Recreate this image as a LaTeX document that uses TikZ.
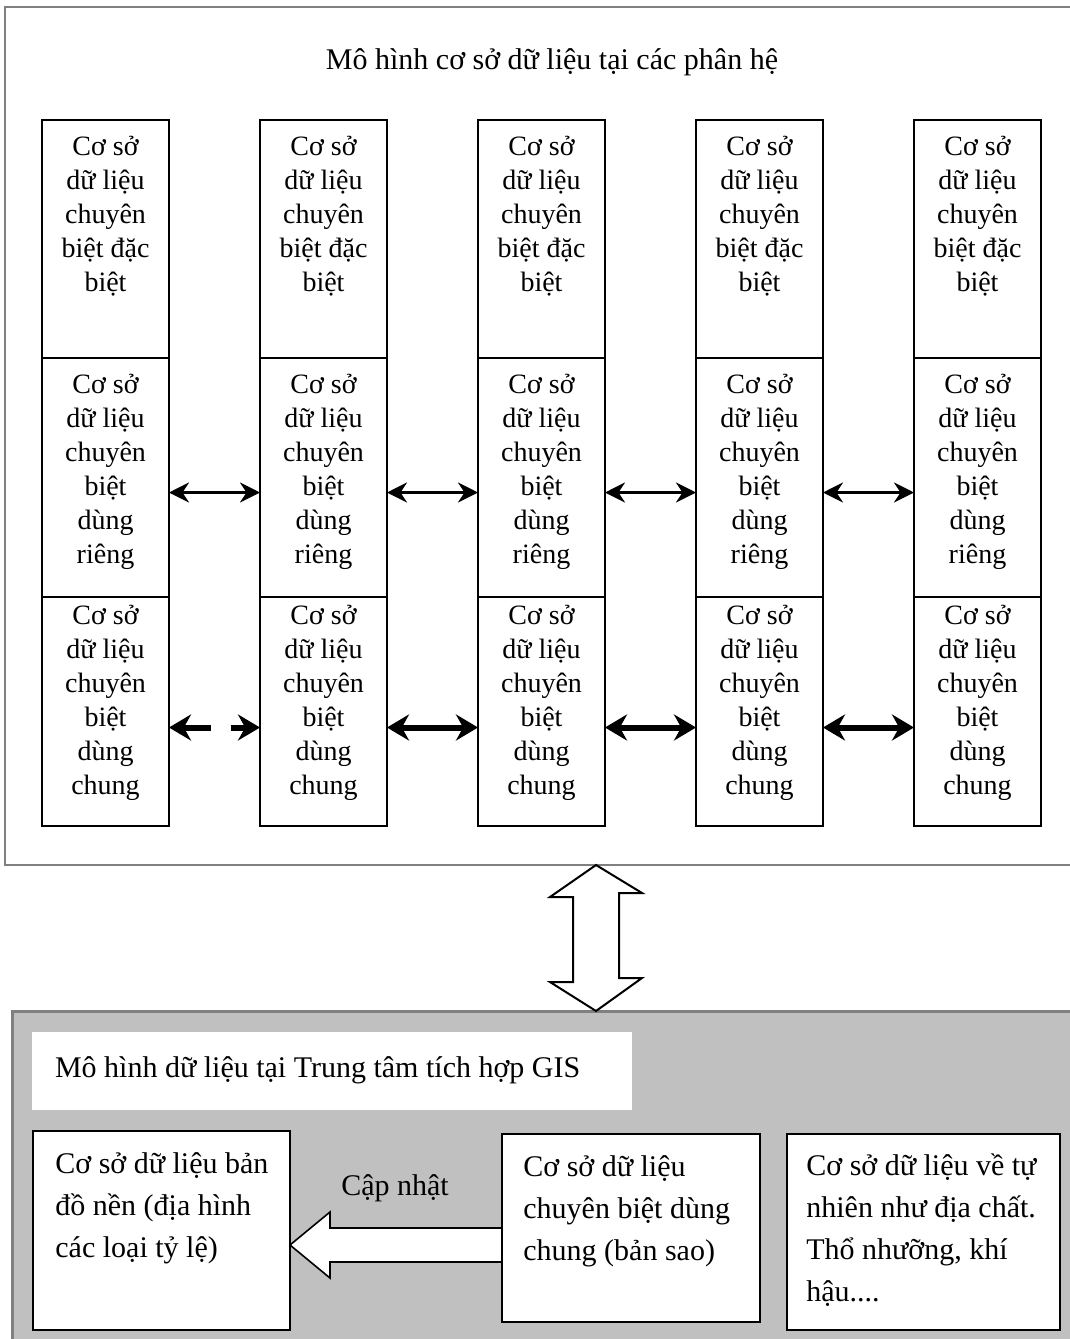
\documentclass[tikz,border=0pt]{standalone}
\usepackage{fontspec}
\setmainfont{Liberation Serif}
\usepackage{tikz}
\usetikzlibrary{arrows.meta,positioning,calc}

\definecolor{xamnen}{HTML}{C0C0C0}
\definecolor{xamvien}{HTML}{808080}

\begin{document}
\begin{tikzpicture}[x=0.5pt,y=-0.5pt,
  cot/.style={draw=black, line width=1.2pt, outer sep=0pt, minimum width=63.5pt},
  chu/.style={align=center, anchor=north, inner sep=0pt, font=\fontsize{14}{17}\selectfont},
  hop/.style={draw=black, line width=1.3pt, fill=white, outer sep=0pt, anchor=north west},
  chuhop/.style={align=left, anchor=north west, inner sep=0pt, font=\fontsize{15}{21}\selectfont},
  muiten/.style={{Stealth[length=10pt,width=10pt]}-{Stealth[length=10pt,width=10pt]}, line width=1.5pt},
  muitenday/.style={{Stealth[length=11pt,width=13pt]}-{Stealth[length=11pt,width=13pt]}, line width=3pt}]

\useasboundingbox (0,0) rectangle (1070,1339);

% khung phan he
\node[draw=xamvien, line width=1pt, anchor=north west, outer sep=0pt, minimum width=540pt, minimum height=429pt] (phanhe) at (5,7) {};
\node[font=\fontsize{15}{18}\selectfont] (tieude) at (552,62) {Mô hình cơ sở dữ liệu tại các phân hệ};

\foreach \i/\x in {1/105.5,2/323.5,3/541.5,4/759.5,5/977.5}{
  \node[cot, minimum height=119pt] (dacbiet\i) at (\x,239) {};
  \node[cot, minimum height=119.5pt, below=0pt of dacbiet\i] (rieng\i) {};
  \node[cot, minimum height=114.5pt, below=0pt of rieng\i] (chung\i) {};
  \node[chu] (tdacbiet\i) at ([yshift=-8pt]dacbiet\i.north) {Cơ sở\\dữ liệu\\chuyên\\biệt đặc\\biệt};
  \node[chu] (trieng\i) at ([yshift=-8pt]rieng\i.north) {Cơ sở\\dữ liệu\\chuyên\\biệt\\dùng\\riêng};
  \node[chu] (tchung\i) at ([yshift=-4pt]chung\i.north) {Cơ sở\\dữ liệu\\chuyên\\biệt\\dùng\\chung};
}

\foreach \i/\j in {1/2,2/3,3/4,4/5}{
  \draw[muiten] ([yshift=-7.5pt]rieng\i.east) -- ([yshift=-7.5pt]rieng\j.west);
}
\draw[muitenday, dash pattern=on 14pt off 10pt] ([yshift=-8pt]chung1.east) -- ([yshift=-8pt]chung2.west);
\foreach \i/\j in {2/3,3/4,4/5}{
  \draw[muitenday] ([yshift=-8pt]chung\i.east) -- ([yshift=-8pt]chung\j.west);
}

% khung trung tam
\node[draw=xamvien, fill=xamnen, line width=1.5pt, anchor=north west, outer sep=0pt, minimum width=540pt, minimum height=166pt] (trungtam) at (12,1011) {};
\node[fill=white, anchor=north west, outer sep=0pt, minimum width=300pt, minimum height=39pt] (nhan) at (32,1032) {};
\node[font=\fontsize{15}{18}\selectfont, anchor=west] (tennhan) at (48,1070) {Mô hình dữ liệu tại Trung tâm tích hợp GIS};

\node[hop, minimum width=128.5pt, minimum height=99.5pt] (bando) at (33,1131) {};
\node[hop, minimum width=129pt, minimum height=94pt] (bansao) at (502,1134) {};
\node[hop, minimum width=136.5pt, minimum height=98pt] (tunhien) at (787,1134) {};
\node[chuhop] (tbando) at ([xshift=11pt,yshift=-10.5pt]bando.north west) {Cơ sở dữ liệu bản\\đồ nền (địa hình\\các loại tỷ lệ)};
\node[chuhop] (tbansao) at ([xshift=10.5pt,yshift=-10.5pt]bansao.north west) {Cơ sở dữ liệu\\chuyên biệt dùng\\chung (bản sao)};
\node[chuhop] (ttunhien) at ([xshift=9.5pt,yshift=-9.5pt]tunhien.north west) {Cơ sở dữ liệu về tự\\nhiên như địa chất.\\Thổ nhưỡng, khí\\hậu....};

% mui ten cap nhat
\coordinate (dau) at (bando.east |- 0,1245);
\draw[line width=0.8pt, fill=white] (dau) -- ++(40,-33) -- ++(0,16) -- (bansao.west |- 0,1228) -- (bansao.west |- 0,1262) -- ($(dau)+(40,17)$) -- ++(0,16) -- cycle;
\node[font=\fontsize{15}{18}\selectfont] (capnhat) at (395,1188) {Cập nhật};

% mui ten hai chieu
\coordinate (tren) at (phanhe.south -| 596,0);
\coordinate (duoi) at (trungtam.north -| 596,0);
\draw[line width=1pt, fill=white] (tren) -- ++(46,28) -- ++(-23,0) -- ++(0,85) -- ++(23,0) -- (duoi) -- ++(-46,-29) -- ++(23,0) -- ++(0,-85) -- ++(-23,0) -- cycle;
\end{tikzpicture}
\end{document}
